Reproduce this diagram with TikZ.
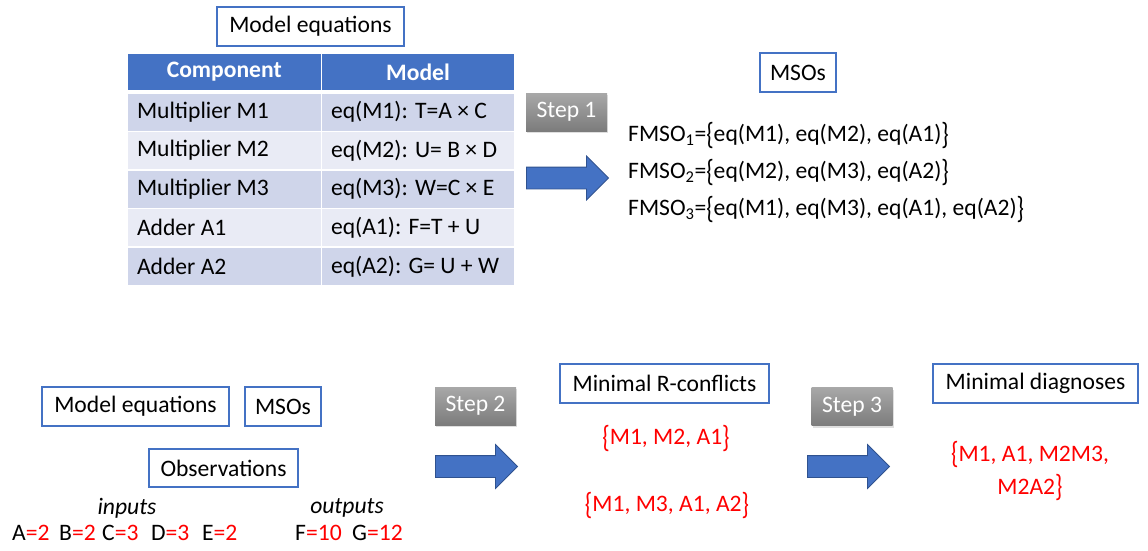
\documentclass[tikz,border=0pt]{standalone}
\usepackage{fontspec}
\usepackage{graphicx}
\setmainfont{Carlito}
\usetikzlibrary{positioning,shapes.arrows,shadows}
\definecolor{boxblue}{HTML}{4472C4}
\definecolor{arrowedge}{HTML}{2F528F}
\definecolor{rowdark}{HTML}{CFD5EA}
\definecolor{rowlight}{HTML}{E9EBF5}
\definecolor{steptop}{HTML}{A8A8A8}
\definecolor{stepbot}{HTML}{7C7C7C}
\definecolor{valred}{HTML}{FF0000}
\newcommand{\obsval}[2]{#1\textcolor{valred}{=#2}}
\newcommand{\lbr}{\raisebox{-0.1em}{\scalebox{1}[1.3]{\{}}}
\newcommand{\rbr}{\raisebox{-0.1em}{\scalebox{1}[1.3]{\}}}}

\begin{document}
\begin{tikzpicture}[
  x=1pt, y=-1pt,
  every node/.style={font=\fontsize{23.6}{28}\selectfont},
  labelbox/.style={rectangle, draw=boxblue, line width=1.3pt, minimum height=39pt, inner sep=0pt},
  headcell/.style={rectangle, fill=boxblue, text=white, font=\fontsize{23.6}{28}\selectfont\bfseries, minimum height=36pt, inner sep=0pt},
  cell/.style={rectangle, minimum height=37pt, inner xsep=9pt, inner ysep=0pt, align=flush left},
  stepbox/.style={rectangle, top color=steptop, bottom color=stepbot, text=white, minimum width=81pt, minimum height=38pt, inner sep=0pt,
    drop shadow={opacity=0.25, shadow xshift=1pt, shadow yshift=-2pt}},
  blockarrow/.style={single arrow, fill=boxblue, draw=arrowedge, line width=0.8pt, minimum height=82pt, minimum width=43pt,
    single arrow head extend=11pt, inner xsep=0pt, inner ysep=10.5pt},
  redset/.style={text=valred, align=center}
]
  \useasboundingbox (0,0) rectangle (1148,550);

  % top: model table
  \node[labelbox, minimum width=187pt] (modeleq) at (310.5,26.5) {Model equations};
  \node[headcell, minimum width=192.5pt] (hcomp) at (224.25,72) {Component};
  \node[headcell, minimum width=192pt] (hmodel) at (418,72) {Model};
  \foreach \comp/\eq/\shade [count=\i] in {
      Multiplier M1/{eq(M1): T=A × C}/rowdark,
      Multiplier M2/{eq(M2): U= B × D}/rowlight,
      Multiplier M3/{eq(M3): W=C × E}/rowdark,
      Adder A1/{eq(A1): F=T + U}/rowlight,
      Adder A2/{eq(A2): G= U + W}/rowdark} {
    \node[cell, fill=\shade, text width=174.5pt] (comp\i) at (224.25,{112+(\i-1)*38.6}) {\comp};
    \node[cell, fill=\shade, text width=174pt] (model\i) at (418,{112+(\i-1)*38.6}) {\eq};
  }

  % step 1 and MSOs
  \node[stepbox] (step1) at (566.5,112) {Step 1};
  \node[blockarrow] (arrow1) at (562,178) {};
  \node[labelbox, minimum width=76pt] (msos) at (798,72.5) {MSOs};
  \node[anchor=west, inner sep=0pt] (fmso1) at (628,135) {FMSO\textsubscript{1}=\lbr eq(M1), eq(M2), eq(A1)\rbr};
  \node[anchor=west, inner sep=0pt] (fmso2) at (628,172) {FMSO\textsubscript{2}=\lbr eq(M2), eq(M3), eq(A2)\rbr};
  \node[anchor=west, inner sep=0pt] (fmso3) at (628,209) {FMSO\textsubscript{3}=\lbr eq(M1), eq(M3), eq(A1), eq(A2)\rbr};

  % bottom: inputs of step 2
  \node[labelbox, minimum width=187pt] (modeleqb) at (135.5,406.5) {Model equations};
  \node[labelbox, minimum width=76pt] (msosb) at (283,406.5) {MSOs};
  \node[labelbox, minimum width=149pt, minimum height=38pt] (obs) at (223.5,468) {Observations};
  \node[font=\fontsize{23.6}{28}\selectfont\itshape] (inputs) at (127,508) {inputs};
  \node[font=\fontsize{23.6}{28}\selectfont\itshape] (outputs) at (347,508) {outputs};
  \foreach \var/\val/\xpos in {A/2/12, B/2/59, C/3/102, D/3/151, E/2/202, F/10/295, G/12/352}
    \node[anchor=west, inner sep=0pt] (obs\var) at (\xpos,533) {\obsval{\var}{\val}};

  % step 2: conflicts
  \node[stepbox] (step2) at (475.5,406) {Step 2};
  \node[blockarrow] (arrow2) at (471,466.5) {};
  \node[labelbox, minimum width=209pt] (rconf) at (664.5,383.5) {Minimal R-conflicts};
  \node[redset] (conf1) at (666,438) {\lbr M1, M2, A1\rbr};
  \node[redset] (conf2) at (667,505) {\lbr M1, M3, A1, A2\rbr};

  % step 3: diagnoses
  \node[stepbox] (step3) at (852,406.5) {Step 3};
  \node[blockarrow] (arrow3) at (843,466.5) {};
  \node[labelbox, minimum width=205pt] (diag) at (1035.5,383.5) {Minimal diagnoses};
  \node[redset, font=\fontsize{23.6}{33}\selectfont] (diagset) at (1030,471) {\lbr M1, A1, M2M3,\\ M2A2\rbr};
\end{tikzpicture}
\end{document}
